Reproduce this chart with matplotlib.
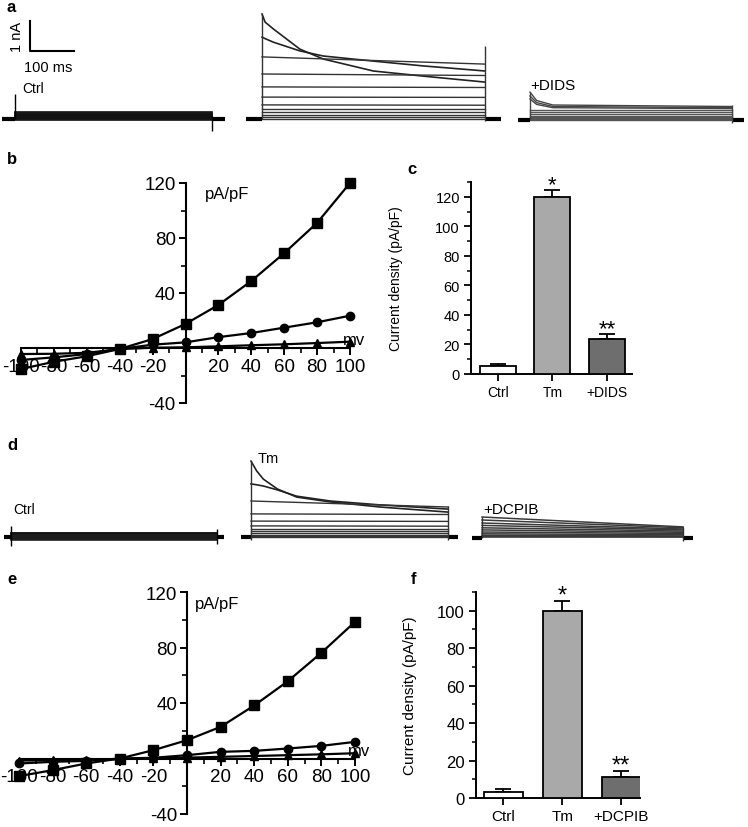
import numpy as np
import matplotlib
matplotlib.use('Agg')
import matplotlib.pyplot as plt

plt.rcParams['font.family'] = ['Liberation Sans', 'DejaVu Sans']
plt.rcParams['axes.unicode_minus'] = False

W, H = 748, 828
PX_MS = 0.44   # pixels per ms in the trace rows
PX_NA = 30.0   # pixels per nA in the trace rows

# ---- current traces (time in ms from pulse onset, current in nA) ----
# a: Ctrl
a_ctrl_dur = 448
a_ctrl_levels = [-0.03, 0.0, 0.03, 0.05, 0.07, 0.09, 0.11, 0.13, 0.15, 0.18, 0.2, 0.23]
# a: Tm
a_tm_dur = 507
a_tm_times = [0, 7, 26, 86, 139, 253, 366, 507]
a_tm_decay = [[3.5, 3.23, 3.0, 2.33, 2.0, 1.6, 1.43, 1.23],
              [2.73, 2.68, 2.56, 2.27, 2.1, 1.93, 1.77, 1.6]]
a_tm_start = [2.07, 1.5, 1.07, 0.73, 0.47, 0.33, 0.23, 0.13, 0.07, 0.0]
a_tm_end = [1.83, 1.45, 1.05, 0.72, 0.46, 0.33, 0.23, 0.13, 0.07, 0.0]
# a: +DIDS
a_dids_dur = 459
a_dids_times = [0, 15, 52, 459]
a_dids_decay = [[0.93, 0.65, 0.5, 0.45],
                [0.8, 0.58, 0.45, 0.41],
                [0.7, 0.52, 0.41, 0.38]]
a_dids_levels = [0.33, 0.27, 0.2, 0.15, 0.1, 0.07, 0.03, 0.0]
# d: Ctrl
d_ctrl_dur = 468
d_ctrl_levels = [-0.1, -0.06, -0.03, 0.0, 0.03, 0.06, 0.09, 0.12, 0.15]
# d: Tm
d_tm_dur = 448
d_tm_times = [0, 13, 28, 60, 104, 180, 293, 448]
d_tm_decay = [[2.53, 2.2, 1.93, 1.6, 1.33, 1.17, 1.0, 0.83],
              [1.77, 1.74, 1.7, 1.57, 1.36, 1.2, 1.07, 0.93]]
d_tm_start = [1.2, 0.77, 0.53, 0.37, 0.27, 0.2, 0.13, 0.07, 0.03, 0.0]
d_tm_end = [1.0, 0.75, 0.52, 0.36, 0.27, 0.2, 0.13, 0.07, 0.03, 0.0]
# d: +DCPIB
d_dcpib_dur = 457
d_dcpib_start = [0.7, 0.6, 0.5, 0.42, 0.34, 0.27, 0.2, 0.14, 0.09, 0.05, 0.02]
d_dcpib_end = [0.37, 0.34, 0.3, 0.27, 0.23, 0.19, 0.15, 0.11, 0.07, 0.04, 0.02]

# ---- I-V curves (pA/pF) ----
mv = [-100, -80, -60, -40, -20, 0, 20, 40, 60, 80, 100]
b_tm = [-15.3, -10, -6, -0.7, 6.5, 17.5, 31.3, 48.7, 69, 91, 120]
b_dids = [-8.7, -6.8, -4.4, -0.7, 2.4, 4.1, 7.9, 10.9, 14.8, 18.7, 23.5]
b_ctrl = [-4.4, -4.2, -3.5, -0.8, 0.2, 0.5, 1.2, 2.0, 2.7, 3.6, 4.6]
e_tm = [-12.7, -8.4, -3.6, 0, 6, 13.2, 22.8, 38.2, 55.7, 76.2, 98.5]
e_dcpib = [-3.6, -2.4, -1.7, 0, 0.5, 2.4, 4.8, 5.5, 7.2, 9.1, 12]
e_ctrl = [-1.5, -1.3, -1.0, -0.4, 0.2, 0.6, 1.2, 1.8, 2.4, 3.0, 3.8]

# ---- bar charts ----
c_cats = ['Ctrl', 'Tm', '+DIDS']
c_vals = [5.5, 120, 24]
c_err = [1.5, 4.7, 3.0]
c_marks = ['', '*', '**']
f_cats = ['Ctrl', 'Tm', '+DCPIB']
f_vals = [3.3, 100, 11.2]
f_err = [1.6, 5.2, 3.0]
f_marks = ['', '*', '**']
bar_colors = ['white', '#a9a9a9', '#6e6e6e']

fig = plt.figure(figsize=(W / 100, H / 100), dpi=100)


def px_axes(x0, y0, x1, y1):
    return fig.add_axes([x0 / W, 1 - y1 / H, (x1 - x0) / W, (y1 - y0) / H])


def ftext(x, y, s, **kw):
    kw.setdefault('va', 'center')
    fig.text(x / W, 1 - y / H, s, **kw)


def trace_axes(x0, x1, y0, y1, onset, base):
    ax = px_axes(x0, y0, x1, y1)
    ax.set_xlim((x0 - onset) / PX_MS, (x1 - onset) / PX_MS)
    ax.set_ylim((base - y1) / PX_NA, (base - y0) / PX_NA)
    ax.axis('off')
    return ax


def draw_pulse(ax, dur, hold, on, off, color='k', lw=1.0):
    ax.plot([-hold, 0], [0, 0], color='k', lw=3, solid_capstyle='butt')
    ax.plot([dur, dur + hold], [0, 0], color='k', lw=3, solid_capstyle='butt')
    ax.vlines(0, on[0], on[1], color=color, lw=lw)
    ax.vlines(dur, off[0], off[1], color=color, lw=lw)


def draw_flat(ax, dur, start, end, color, lw):
    for v0, v1 in zip(start, end):
        ax.plot([0, dur], [v0, v1], color=color, lw=lw)


# ---------------- row a ----------------
ax = trace_axes(0, 240, 0, 140, 15, 120)
draw_flat(ax, a_ctrl_dur, a_ctrl_levels, a_ctrl_levels, '#111111', 1.2)
draw_pulse(ax, a_ctrl_dur, 30, (0, 0.83), (-0.4, 0.1))
# scale bar: 100 ms, 1 nA
sb_t, sb_i = 15 / PX_MS, (120 - 52) / PX_NA
ax.plot([sb_t, sb_t, sb_t + 100], [sb_i + 1, sb_i, sb_i], color='k', lw=1.5)
ftext(17, 37, '1 nA', rotation=90, ha='center', fontsize=10.5)
ftext(48, 68, '100 ms', ha='center', fontsize=10.5)
ftext(22, 89, 'Ctrl', ha='left', fontsize=10)

ax = trace_axes(240, 505, 0, 140, 262, 120)
for vals in a_tm_decay:
    ax.plot(a_tm_times, vals, color='#222222', lw=1.2)
draw_flat(ax, a_tm_dur, a_tm_start, a_tm_end, '#333333', 1.0)
draw_pulse(ax, a_tm_dur, 36, (0, 3.5), (-0.07, 2.43), color='#333333')

ax = trace_axes(505, 748, 0, 140, 530, 121)
for vals in a_dids_decay:
    ax.plot(a_dids_times, vals, color='#444444', lw=1.0)
draw_flat(ax, a_dids_dur, a_dids_levels, a_dids_levels, '#555555', 1.0)
draw_pulse(ax, a_dids_dur, 28, (0, 0.93), (-0.1, 0.5), color='#444444')
ftext(530, 86, '+DIDS', ha='left', fontsize=11)

# ---------------- row d ----------------
ax = trace_axes(0, 235, 430, 560, 11, 538)
draw_flat(ax, d_ctrl_dur, d_ctrl_levels, d_ctrl_levels, '#111111', 1.1)
draw_pulse(ax, d_ctrl_dur, 16, (-0.3, 0.37), (-0.23, 0.27))
ftext(13, 510, 'Ctrl', ha='left', fontsize=10)

ax = trace_axes(235, 470, 430, 560, 251, 538)
for vals in d_tm_decay:
    ax.plot(d_tm_times, vals, color='#222222', lw=1.2)
draw_flat(ax, d_tm_dur, d_tm_start, d_tm_end, '#333333', 1.0)
draw_pulse(ax, d_tm_dur, 22, (-0.1, 2.53), (-0.1, 1.03), color='#333333')
ftext(258, 459, 'Tm', ha='left', fontsize=10.5)

ax = trace_axes(470, 748, 430, 560, 482, 539)
draw_flat(ax, d_dcpib_dur, d_dcpib_start, d_dcpib_end, '#3a3a3a', 1.1)
draw_pulse(ax, d_dcpib_dur, 22, (0, 0.7), (-0.1, 0.37), color='#333333')
ftext(483, 510, '+DCPIB', ha='left', fontsize=11)


# ---------------- I-V panels ----------------
def iv_panel(box, tm, drug, ctrl, unit_xy, mv_xy):
    ax = px_axes(*box)
    ax.plot(mv, tm, 'k-', marker='s', ms=6.5, lw=1.6, clip_on=False, zorder=3)
    ax.plot(mv, drug, 'k-', marker='o', ms=6, lw=1.6, clip_on=False, zorder=3)
    ax.plot(mv, ctrl, 'k-', marker='^', ms=5.5, lw=1.6, clip_on=False, zorder=3)
    ax.set_xlim(-100, 100)
    ax.set_ylim(-40, 120)
    for s in ['top', 'right']:
        ax.spines[s].set_visible(False)
    for s in ['left', 'bottom']:
        ax.spines[s].set_position(('data', 0))
        ax.spines[s].set_linewidth(1.5)
    ax.set_yticks([-40, 40, 80, 120])
    ax.set_yticks([-20, 20, 60, 100], minor=True)
    ax.set_xticks([-100, -80, -60, -40, -20, 20, 40, 60, 80, 100])
    ax.set_xticks([-90, -70, -50, -30, -10, 10, 30, 50, 70, 90], minor=True)
    ax.tick_params(which='major', direction='out', length=5, width=1.4,
                   labelsize=13.5, pad=2)
    ax.tick_params(which='minor', direction='out', length=3.5, width=1.2)
    ax.patch.set_alpha(0)
    ax.text(unit_xy[0], unit_xy[1], 'pA/pF', fontsize=12, ha='left', va='center')
    ax.text(mv_xy[0], mv_xy[1], 'mv', fontsize=12, ha='left', va='center')
    return ax


iv_panel((21, 184, 350, 404), b_tm, b_dids, b_ctrl, (12, 112), (96, 6))
iv_panel((19, 593, 355, 815), e_tm, e_dcpib, e_ctrl, (5, 112), (96, 6))


# ---------------- bar panels ----------------
def bar_panel(box, cats, vals, err, marks, ymax, yticks, minor, xlim,
              tsize, lsize, label_x, star_size):
    ax = px_axes(*box)
    x = np.arange(len(cats))
    ax.bar(x, vals, width=0.66, color=bar_colors, edgecolor='k', lw=1.3, zorder=3)
    ax.errorbar(x, vals, yerr=[np.zeros(len(vals)), err], fmt='none', ecolor='k',
                elinewidth=1.3, capsize=6, capthick=1.3, zorder=2)
    for xi, v, e, m in zip(x, vals, err, marks):
        if m:
            ax.annotate(m, (xi, v + e), xytext=(0, 4), textcoords='offset points',
                        ha='center', va='center', fontsize=star_size,
                        annotation_clip=False)
    ax.set_xlim(*xlim)
    ax.set_ylim(0, ymax)
    ax.set_xticks(x)
    ax.set_xticklabels(cats, fontsize=lsize)
    ax.set_yticks(yticks)
    ax.set_yticks(minor, minor=True)
    for s in ['top', 'right']:
        ax.spines[s].set_visible(False)
    for s in ['left', 'bottom']:
        ax.spines[s].set_linewidth(1.4)
    ax.tick_params(which='major', direction='out', length=5, width=1.3,
                   labelsize=tsize, pad=3)
    ax.tick_params(axis='x', labelsize=lsize)
    ax.tick_params(which='minor', direction='out', length=3, width=1.1)
    ax.set_ylabel('Current density (pA/pF)', fontsize=lsize)
    ax.yaxis.set_label_coords(label_x, 0.5)
    ax.patch.set_alpha(0)
    return ax


bar_panel((471, 183, 632, 375), c_cats, c_vals, c_err, c_marks, 130,
          np.arange(0, 121, 20), np.arange(10, 131, 20), (-0.495, 2.46),
          10.5, 10, -0.42, 16)
bar_panel((476, 593, 640, 799), f_cats, f_vals, f_err, f_marks, 110,
          np.arange(0, 101, 20), np.arange(10, 111, 20), (-0.46, 2.32),
          12, 11, -0.36, 17)

# panel letters
for letter, (lx, ly) in {'a': (7, 8), 'b': (7, 160), 'c': (407, 170),
                         'd': (7, 445), 'e': (7, 580), 'f': (411, 580)}.items():
    ftext(lx, ly, letter, ha='left', fontsize=12, fontweight='bold')

fig.savefig('out.png', dpi=100)
